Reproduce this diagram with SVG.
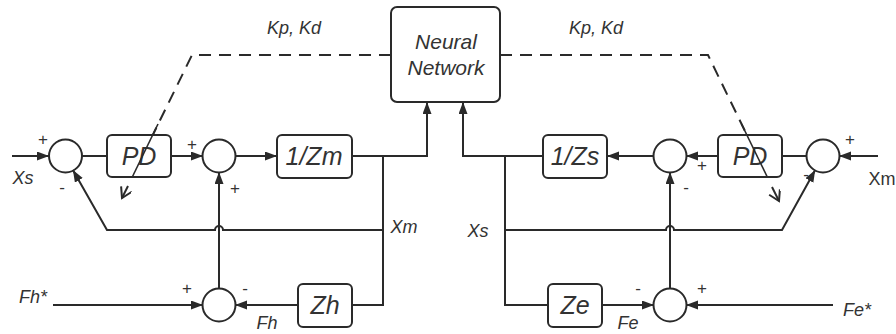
<svg xmlns="http://www.w3.org/2000/svg" width="896" height="334" viewBox="0 0 896 334">
<style>
.blk{fill:#fff;stroke:#2a2a2a;stroke-width:2}
.sum{fill:#fff;stroke:#2a2a2a;stroke-width:2}
.ln{fill:none;stroke:#2a2a2a;stroke-width:2}
.ar{marker-end:url(#ah)}
.dash{fill:none;stroke:#2a2a2a;stroke-width:2;stroke-dasharray:12 8}
.bt{font-family:"Liberation Sans",Arial,sans-serif;font-style:italic;font-size:25px;fill:#333;text-anchor:middle}
.nt{font-family:"Liberation Sans",Arial,sans-serif;font-style:italic;font-size:21px;fill:#333;text-anchor:middle}
.lb{font-family:"Liberation Sans",Arial,sans-serif;font-style:italic;font-size:18px;fill:#333;text-anchor:middle}
.sg{font-family:"Liberation Sans",Arial,sans-serif;font-size:17px;fill:#333;text-anchor:middle}
</style>
<defs>
<marker id="ah" markerUnits="userSpaceOnUse" markerWidth="13" markerHeight="10" refX="12" refY="4.5" orient="auto">
<path d="M0,0 L12,4.5 L0,9 z" fill="#2a2a2a"/>
</marker>
<marker id="oh" markerUnits="userSpaceOnUse" markerWidth="14" markerHeight="14" refX="11" refY="6" orient="auto">
<path d="M1,0 L11,6 L1,12" fill="none" stroke="#2a2a2a" stroke-width="2"/>
</marker>
</defs>

<g id="neural-network">
<rect class="blk" x="391" y="7" width="109" height="95" rx="6"/>
<text class="nt" x="446" y="49">Neural</text>
<text class="nt" x="446" y="75">Network</text>
</g>

<g id="sum1"><circle class="sum" cx="65.5" cy="156" r="16.5"/></g>
<g id="pd-left">
<rect class="blk" x="107" y="135" width="64" height="42" rx="5"/>
<text class="bt" x="139" y="165">PD</text>
</g>
<g id="sum2"><circle class="sum" cx="219" cy="156" r="16.5"/></g>
<g id="inv-zm">
<rect class="blk" x="277" y="135" width="75" height="43" rx="5"/>
<text class="bt" x="314" y="165">1/Zm</text>
</g>
<g id="sum3"><circle class="sum" cx="219" cy="305" r="16.5"/></g>
<g id="zh">
<rect class="blk" x="298" y="284" width="54" height="43" rx="5"/>
<text class="bt" x="325" y="314">Zh</text>
</g>

<g id="inv-zs">
<rect class="blk" x="543" y="135" width="64" height="43" rx="5"/>
<text class="bt" x="575" y="165">1/Zs</text>
</g>
<g id="sum4"><circle class="sum" cx="670" cy="156" r="16.5"/></g>
<g id="pd-right">
<rect class="blk" x="718" y="135" width="64" height="42" rx="5"/>
<text class="bt" x="750" y="165">PD</text>
</g>
<g id="sum5"><circle class="sum" cx="823" cy="156" r="16.5"/></g>
<g id="sum6"><circle class="sum" cx="670" cy="305" r="16.5"/></g>
<g id="ze">
<rect class="blk" x="548" y="284" width="54" height="43" rx="5"/>
<text class="bt" x="575" y="314">Ze</text>
</g>

<g id="connectors">
<!-- left side -->
<path class="ln ar" d="M12,156 H49"/>
<path class="ln" d="M82,156 H107"/>
<path class="ln ar" d="M171,156 H203"/>
<path class="ln ar" d="M235,156 H277"/>
<path class="ln ar" d="M352,156 H427 V102"/>
<path class="ln" d="M383,156 V305 H352"/>
<path class="ln ar" d="M219,289 V172"/>
<path class="ln ar" d="M53,305 H203"/>
<path class="ln ar" d="M298,305 H235"/>
<path class="ln ar" d="M383,230 H223 A4,4 0 0 0 215,230 H107 L72.9,169.9"/>
<!-- right side -->
<path class="ln ar" d="M543,156 H463 V102"/>
<path class="ln" d="M505,156 V305 H548"/>
<path class="ln ar" d="M654,156 H607"/>
<path class="ln ar" d="M718,156 H686"/>
<path class="ln" d="M807,156 H782"/>
<path class="ln ar" d="M878,156 H839"/>
<path class="ln ar" d="M670,289 V172"/>
<path class="ln ar" d="M602,305 H654"/>
<path class="ln ar" d="M833,305 H686"/>
<path class="ln ar" d="M505,230 H666 A4,4 0 0 1 674,230 H782 L815.2,170"/>
<!-- gain tuning dashed -->
<path class="dash" d="M391,55 H192 L152.8,135"/>
<path class="ln" d="M158,124 L132.3,177" style="stroke-width:1.6"/>
<path class="ln" d="M128,186 L122,198" marker-end="url(#oh)"/>
<path class="dash" d="M500,55 H708 L746.9,135"/>
<path class="ln" d="M741.5,124 L767.3,177" style="stroke-width:1.6"/>
<path class="ln" d="M772,187 L779,201" marker-end="url(#oh)"/>
</g>

<g id="labels">
<text class="lb" x="294" y="34">Kp, Kd</text>
<text class="lb" x="596" y="34">Kp, Kd</text>
<text class="lb" x="23" y="184">Xs</text>
<text class="lb" x="404" y="233">Xm</text>
<text class="lb" x="478" y="237">Xs</text>
<text class="lb" x="33" y="303">Fh*</text>
<text class="lb" x="267" y="329">Fh</text>
<text class="lb" x="628" y="329">Fe</text>
<text class="lb" x="857" y="316">Fe*</text>
<text class="lb" x="882" y="185" style="font-style:normal">Xm</text>
</g>

<g id="signs">
<text class="sg" x="43" y="145">+</text>
<text class="sg" x="62" y="193">-</text>
<text class="sg" x="192" y="150">+</text>
<text class="sg" x="235" y="194">+</text>
<text class="sg" x="187" y="294">+</text>
<text class="sg" x="245" y="294">-</text>
<text class="sg" x="702" y="171">+</text>
<text class="sg" x="686" y="193">-</text>
<text class="sg" x="850" y="145">+</text>
<text class="sg" x="806" y="180">-</text>
<text class="sg" x="638" y="294">-</text>
<text class="sg" x="702" y="294">+</text>
</g>
</svg>
